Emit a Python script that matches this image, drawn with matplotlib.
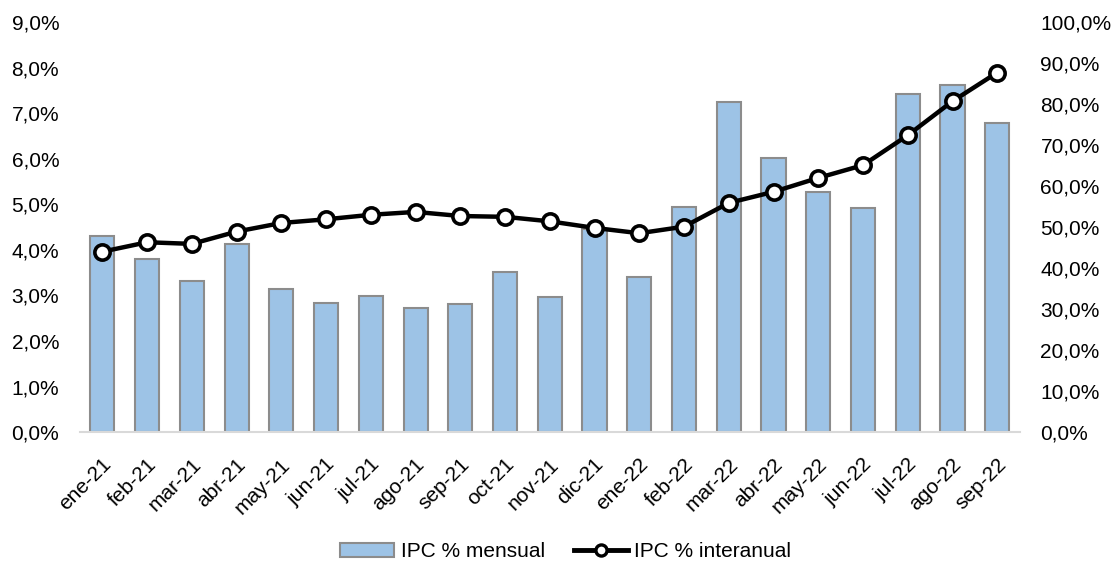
#!/usr/bin/env python
# IPC mensual (barras) e interanual (linea)
import matplotlib
matplotlib.use("Agg")
import matplotlib.pyplot as plt
import matplotlib.transforms as mtransforms
from matplotlib.ticker import FuncFormatter
from matplotlib.lines import Line2D
from matplotlib.patches import Patch
import numpy as np

plt.rcParams['font.family'] = ['Liberation Sans', 'DejaVu Sans']

meses = ['ene-21', 'feb-21', 'mar-21', 'abr-21', 'may-21', 'jun-21', 'jul-21',
         'ago-21', 'sep-21', 'oct-21', 'nov-21', 'dic-21', 'ene-22', 'feb-22',
         'mar-22', 'abr-22', 'may-22', 'jun-22', 'jul-22', 'ago-22', 'sep-22']
ipc_mensual = [4.31, 3.80, 3.32, 4.12, 3.14, 2.84, 2.98, 2.73, 2.82, 3.51, 2.96,
               4.46, 3.41, 4.95, 7.25, 6.02, 5.26, 4.92, 7.42, 7.61, 6.78]
ipc_interanual = [44.0, 46.3, 45.9, 48.9, 51.0, 51.9, 53.0, 53.7, 52.7, 52.5, 51.4,
                  49.8, 48.5, 50.1, 55.9, 58.6, 62.0, 65.1, 72.4, 80.7, 87.7]

x = np.arange(len(meses))
fs = 15

fig = plt.figure(figsize=(11.18, 5.67), dpi=100)
ax = fig.add_axes([0.0716, 0.238, 0.8404, 0.723])
ax2 = ax.twinx()

ax.bar(x, ipc_mensual, width=0.54, color='#9DC3E6', edgecolor='#8c8c8c',
       linewidth=1.5, zorder=2)
ax2.plot(x, ipc_interanual, color='black', linewidth=3.2, marker='o',
         markersize=11, markerfacecolor='white', markeredgecolor='black',
         markeredgewidth=2.6, zorder=3)

ax.set_xlim(-0.5, len(meses) - 0.5)
ax.set_ylim(0, 9)
ax2.set_ylim(0, 100)
ax.set_yticks(np.arange(0, 9.1, 1))
ax2.set_yticks(np.arange(0, 101, 10))
fmt = FuncFormatter(lambda v, p: ('%.1f%%' % v).replace('.', ','))
ax.yaxis.set_major_formatter(fmt)
ax2.yaxis.set_major_formatter(fmt)

for a in (ax, ax2):
    for s in ('top', 'left', 'right', 'bottom'):
        a.spines[s].set_visible(False)
ax.spines['bottom'].set_visible(True)
ax.spines['bottom'].set_color('#d9d9d9')
ax.spines['bottom'].set_linewidth(1.5)

ax.tick_params(axis='y', length=0, pad=15, labelsize=fs)
ax2.tick_params(axis='y', length=0, pad=15, labelsize=fs)
ax.set_xticks(x)
ax.set_xticklabels(meses, rotation=45, ha='right', va='center',
                   rotation_mode='anchor', fontsize=fs)
ax.tick_params(axis='x', length=0, pad=0)
shift = mtransforms.ScaledTranslation(0.06, -0.295, fig.dpi_scale_trans)
for lbl in ax.get_xticklabels():
    lbl.set_transform(lbl.get_transform() + shift)

h_bar = Patch(facecolor='#9DC3E6', edgecolor='#8c8c8c', linewidth=1.5)
h_line = Line2D([], [], color='black', linewidth=3.5, marker='o', markersize=8,
                markerfacecolor='white', markeredgecolor='black', markeredgewidth=2.4)
fig.legend([h_bar, h_line], ['IPC % mensual', 'IPC % interanual'], loc='center',
           bbox_to_anchor=(0.506, 0.027), ncol=2, frameon=False, fontsize=fs,
           handlelength=2.6, handletextpad=0.3, columnspacing=1.4)

plt.savefig('out.png', dpi=100)
